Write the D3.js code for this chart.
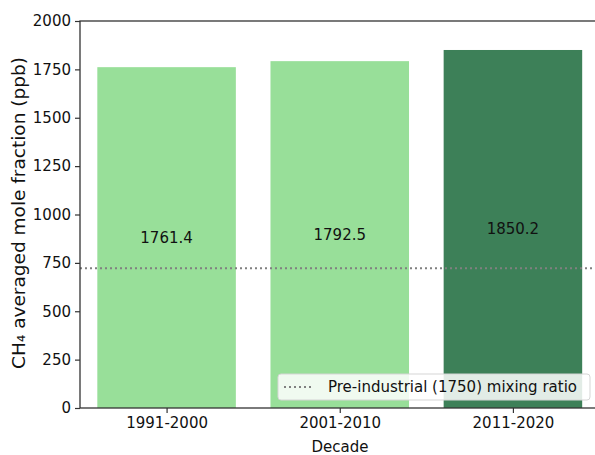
<!DOCTYPE html>
<html>
<head>
<meta charset="utf-8">
<script src="https://cdn.jsdelivr.net/npm/d3@7"></script>
<style>
  html, body { margin: 0; padding: 0; background: #fff; }
  svg { display: block; font-family: "DejaVu Sans", sans-serif; }
</style>
</head>
<body>
<svg id="chart" width="595" height="455"></svg>
<script>
const categories = ["1991-2000", "2001-2010", "2011-2020"];
const values = [1761.4, 1792.5, 1850.2];
const barColors = ["#98df99", "#98df99", "#3d8058"];
const yTicks = [0, 250, 500, 750, 1000, 1250, 1500, 1750, 2000];
const preIndustrial = 722;
const legendLabel = "Pre-industrial (1750) mixing ratio";

(function () {
const svg = d3.select("#chart");
const mLeft = 80, mRight = 599.5, mTop = 21, mBottom = 408;

const x = d3.scaleLinear().domain([-0.5, 2.5]).range([mLeft, mRight]);
const y = d3.scaleLinear().domain([0, 2000]).range([mBottom, mTop]);
const barW = x(0.4) - x(-0.4);

// bars
svg.append("g").selectAll("rect").data(values).join("rect")
  .attr("x", (d, i) => x(i) - barW / 2)
  .attr("y", d => y(d))
  .attr("width", barW)
  .attr("height", d => y(0) - y(d))
  .attr("fill", (d, i) => barColors[i]);

// value labels
svg.append("g").selectAll("text").data(values).join("text")
  .attr("x", (d, i) => x(i))
  .attr("y", d => y(d / 2))
  .attr("dy", "0.35em")
  .attr("text-anchor", "middle")
  .attr("font-size", 15)
  .attr("fill", "#111")
  .text(d => d.toFixed(1));

// pre-industrial line
svg.append("line")
  .attr("x1", mLeft).attr("x2", 595)
  .attr("y1", y(preIndustrial)).attr("y2", y(preIndustrial))
  .attr("stroke", "#808080").attr("stroke-width", 2)
  .attr("stroke-dasharray", "2,3");

// y axis
const yAxis = d3.axisLeft(y).tickValues(yTicks).tickSize(5).tickPadding(4).tickFormat(d3.format("d"));
const gy = svg.append("g").attr("transform", `translate(${mLeft},0)`).call(yAxis);
gy.select(".domain").remove();
gy.selectAll(".tick line").attr("stroke", "#333").attr("stroke-width", 1.2);
gy.selectAll(".tick text").attr("font-size", 15).attr("fill", "#111")
  .attr("font-family", "DejaVu Sans, sans-serif");

// x axis
const xAxis = d3.axisBottom(x).tickValues([0, 1, 2]).tickSize(5).tickPadding(4)
  .tickFormat(i => categories[i]);
const gx = svg.append("g").attr("transform", `translate(0,${mBottom})`).call(xAxis);
gx.select(".domain").remove();
gx.selectAll(".tick line").attr("stroke", "#333").attr("stroke-width", 1.2);
gx.selectAll(".tick text").attr("font-size", 15).attr("fill", "#111")
  .attr("font-family", "DejaVu Sans, sans-serif");

// spines
svg.append("rect").attr("x", mLeft).attr("y", mTop)
  .attr("width", mRight - mLeft).attr("height", mBottom - mTop)
  .attr("fill", "none").attr("stroke", "#333").attr("stroke-width", 1.3);

// legend
const lg = svg.append("g");
lg.append("rect").attr("x", 278).attr("y", 374).attr("width", 312).attr("height", 26)
  .attr("rx", 3).attr("fill", "#fff").attr("fill-opacity", 0.85)
  .attr("stroke", "#d5d5d5").attr("stroke-width", 1);
lg.append("line").attr("x1", 284).attr("x2", 314).attr("y1", 387).attr("y2", 387)
  .attr("stroke", "#808080").attr("stroke-width", 2).attr("stroke-dasharray", "2,3");
lg.append("text").attr("x", 328).attr("y", 387).attr("dy", "0.35em")
  .attr("font-size", 15).attr("fill", "#111").text(legendLabel);

// axis labels
svg.append("text").attr("x", 340).attr("y", 452).attr("text-anchor", "middle")
  .attr("font-size", 15).attr("fill", "#111").text("Decade");
svg.append("text").attr("transform", "translate(25,213) rotate(-90)")
  .attr("text-anchor", "middle").attr("font-size", 18.5).attr("fill", "#111")
  .text("CH\u2084 averaged mole fraction (ppb)");
})();
</script>
</body>
</html>
